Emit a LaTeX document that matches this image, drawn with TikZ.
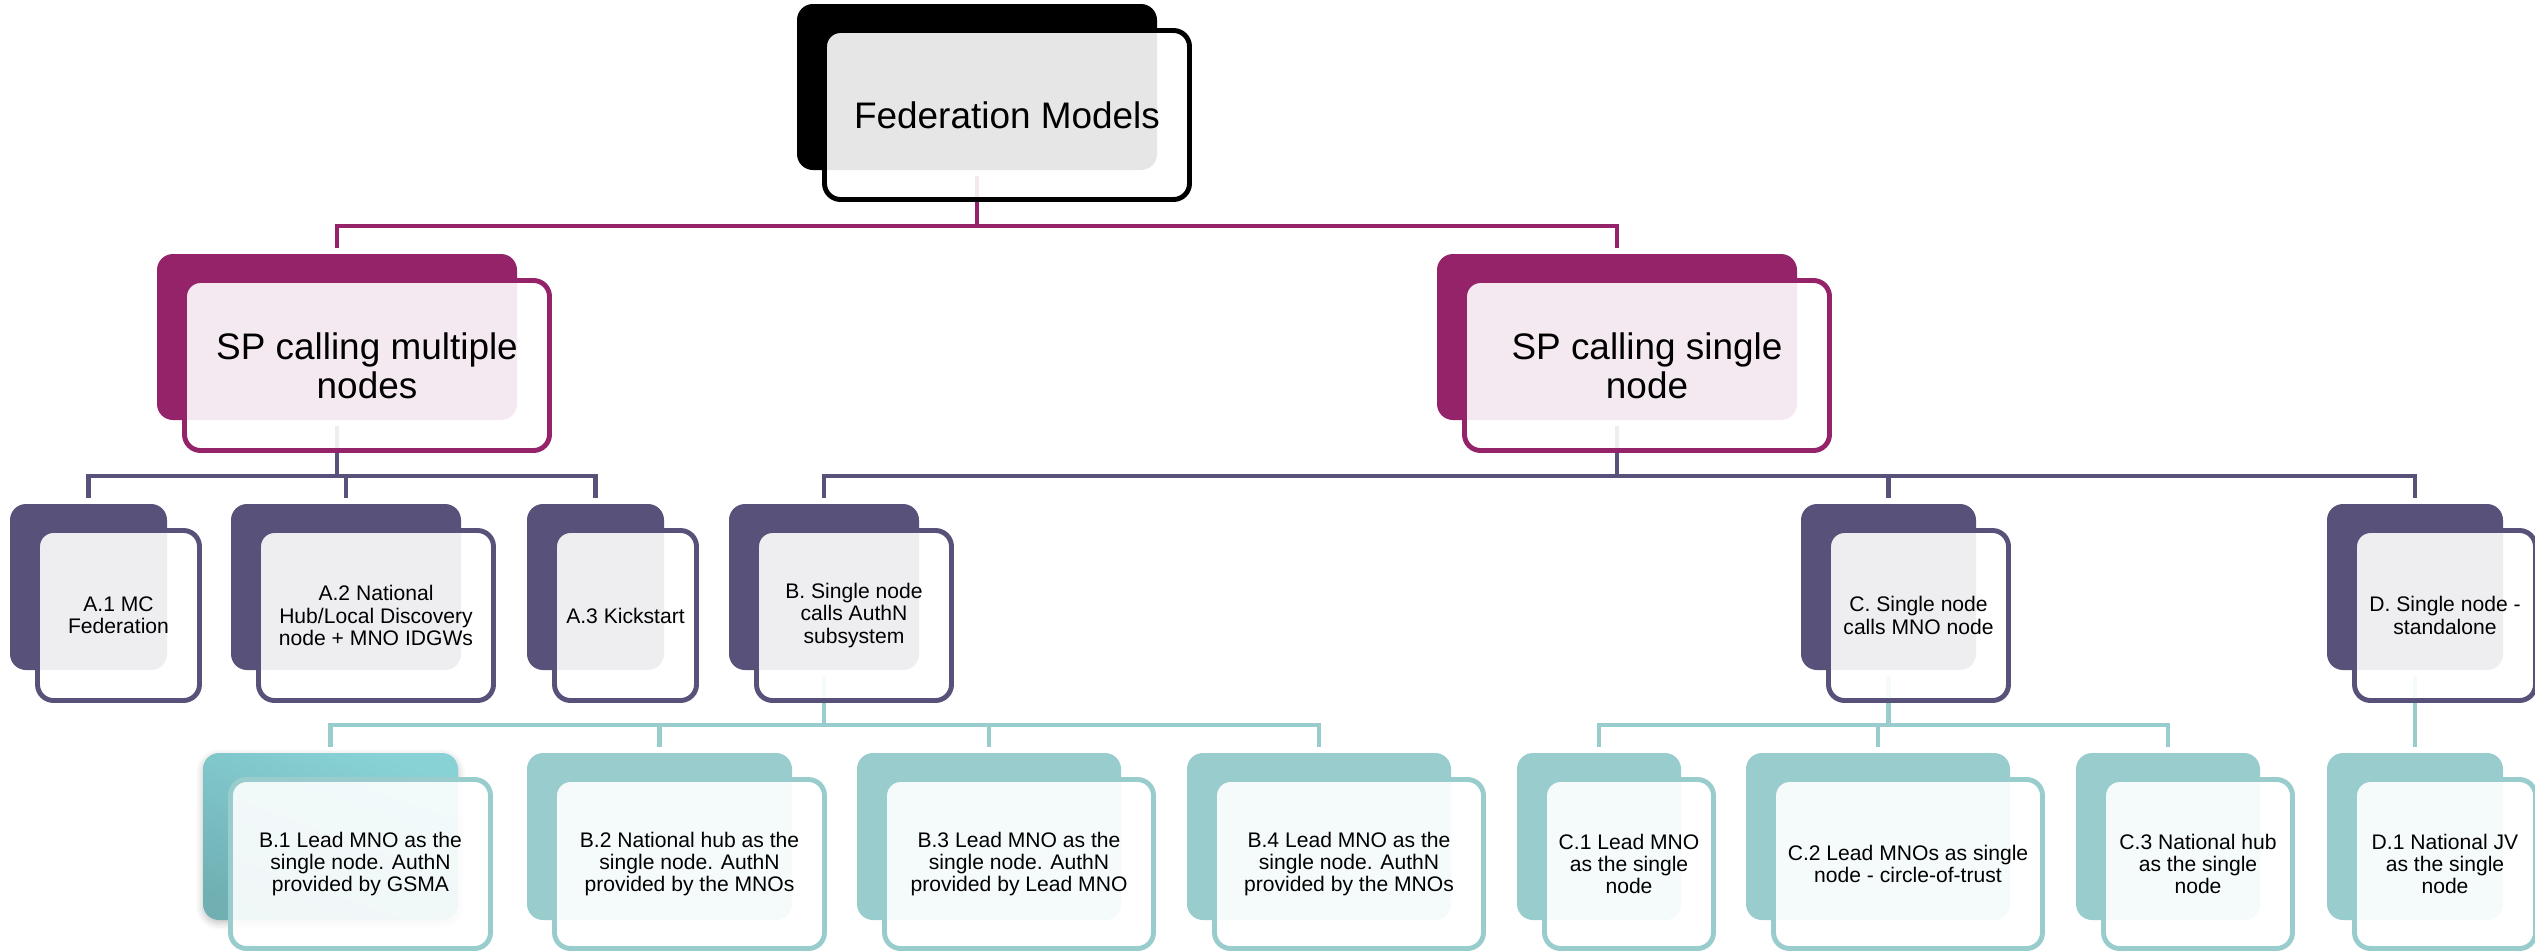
\documentclass[tikz,border=0pt]{standalone}
\usepackage{fontspec}
\setmainfont{Liberation Sans}
\usetikzlibrary{shadows.blur}
\pgfdeclarelayer{links}
\pgfsetlayers{links,main}

\definecolor{fedpurple}{RGB}{149,35,106}
\definecolor{fedslate}{RGB}{88,82,122}
\definecolor{fedteal}{RGB}{153,204,204}
\definecolor{fedteallight}{RGB}{136,210,214}
\definecolor{fedtealdark}{RGB}{112,176,179}

% One hierarchy entry: a filled back card and an outlined front card holding the label.
% #1 name, #2-#5 back card x1,x2,y1,y2 (px), #6 bottom edge of the front outline,
% #7 tier style prefix, #8 label
\newcommand{\tierbox}[8]{%
  \node[#7back, minimum width={(#3-#2)*0.01cm}, minimum height={(#5-#4)*0.01cm}]
    (#1-b) at ({(#2+#3)/2},{(#4+#5)/2}) {};
  \node[#7front, minimum width={(#3-#2+5)*0.01cm}, minimum height={(#6-#4-29)*0.01cm}]
    (#1) at ({(#2+#3)/2+30},{(#4+#6)/2+12}) {#8};
}

\begin{document}
\begin{tikzpicture}[x=0.01cm, y=-0.01cm,
  card/.style={rectangle, rounded corners=0.16cm, inner sep=0pt, outer sep=0pt},
  frontcard/.style={card, line width=1.4pt, fill=white, fill opacity=0.9,
    text opacity=1, align=center},
  bigtext/.style={font=\fontsize{10.5}{11}\selectfont},
  smalltext/.style={font=\fontsize{6}{6.3}\selectfont},
  topback/.style={card, fill=black},
  topfront/.style={frontcard, draw=black, bigtext},
  pback/.style={card, fill=fedpurple},
  pfront/.style={frontcard, draw=fedpurple, bigtext},
  sback/.style={card, fill=fedslate},
  sfront/.style={frontcard, draw=fedslate, smalltext},
  tback/.style={card, fill=fedteal},
  tfront/.style={frontcard, draw=fedteal, smalltext},
  tgback/.style={card, top color=fedteallight, bottom color=fedtealdark,
    shading angle=-20,
    blur shadow={shadow xshift=0pt, shadow yshift=-0.03cm,
      shadow blur radius=0.07cm, shadow opacity=25}},
  tgfront/.style={tfront},
  link/.style={line width=1.4pt, shorten <=0.06cm, shorten >=0.06cm}
]
\useasboundingbox (0,0) rectangle (2535,951);

\coordinate (bus1) at (0,226);
\coordinate (bus2) at (0,476);
\coordinate (bus3) at (0,725);

% root
\tierbox{top}{797}{1157}{4}{170}{202}{top}{Federation Models}

% first tier
\tierbox{p1}{157}{517}{254}{420}{453}{p}{SP calling multiple\\nodes}
\tierbox{p2}{1437}{1797}{254}{420}{453}{p}{SP calling single\\node}

% second tier
\tierbox{a1}{10}{167}{504}{670}{703}{s}{A.1 MC\\Federation}
\tierbox{a2}{231}{461}{504}{670}{703}{s}{A.2 National\\Hub/Local Discovery\\node + MNO IDGWs}
\tierbox{a3}{527}{664}{504}{670}{703}{s}{A.3 Kickstart}
\tierbox{b}{729}{919}{504}{670}{703}{s}{B. Single node\\calls AuthN\\subsystem}
\tierbox{c}{1801}{1976}{504}{670}{703}{s}{C. Single node\\calls MNO node}
\tierbox{d}{2327}{2503}{504}{670}{703}{s}{D. Single node -\\standalone}

% third tier
\tierbox{b1}{203}{458}{753}{920}{951}{tg}{B.1 Lead MNO as the\\single node. AuthN\\provided by GSMA}
\tierbox{b2}{527}{792}{753}{920}{951}{t}{B.2 National hub as the\\single node. AuthN\\provided by the MNOs}
\tierbox{b3}{857}{1121}{753}{920}{951}{t}{B.3 Lead MNO as the\\single node. AuthN\\provided by Lead MNO}
\tierbox{b4}{1187}{1451}{753}{920}{951}{t}{B.4 Lead MNO as the\\single node. AuthN\\provided by the MNOs}
\tierbox{c1}{1517}{1681}{753}{920}{951}{t}{C.1 Lead MNO\\as the single\\node}
\tierbox{c2}{1746}{2010}{753}{920}{951}{t}{C.2 Lead MNOs as single\\node - circle-of-trust}
\tierbox{c3}{2076}{2260}{753}{920}{951}{t}{C.3 National hub\\as the single\\node}
\tierbox{d1}{2327}{2503}{753}{920}{951}{t}{D.1 National JV\\as the single\\node}

% connectors, kept beneath the cards
\begin{pgfonlayer}{links}
\foreach \child in {p1,p2}
  \draw[link, fedpurple] (top-b.south) -- (top-b.south |- bus1) -| (\child-b.north);
\foreach \child in {a1,a2,a3}
  \draw[link, fedslate] (p1-b.south) -- (p1-b.south |- bus2) -| (\child-b.north);
\foreach \child in {b,c,d}
  \draw[link, fedslate] (p2-b.south) -- (p2-b.south |- bus2) -| (\child-b.north);
\foreach \child in {b1,b2,b3,b4}
  \draw[link, fedteal] (b-b.south) -- (b-b.south |- bus3) -| (\child-b.north);
\foreach \child in {c1,c2,c3}
  \draw[link, fedteal] (c-b.south) -- (c-b.south |- bus3) -| (\child-b.north);
\draw[link, fedteal] (d-b.south) -- (d1-b.north);
\end{pgfonlayer}
\end{tikzpicture}
\end{document}
